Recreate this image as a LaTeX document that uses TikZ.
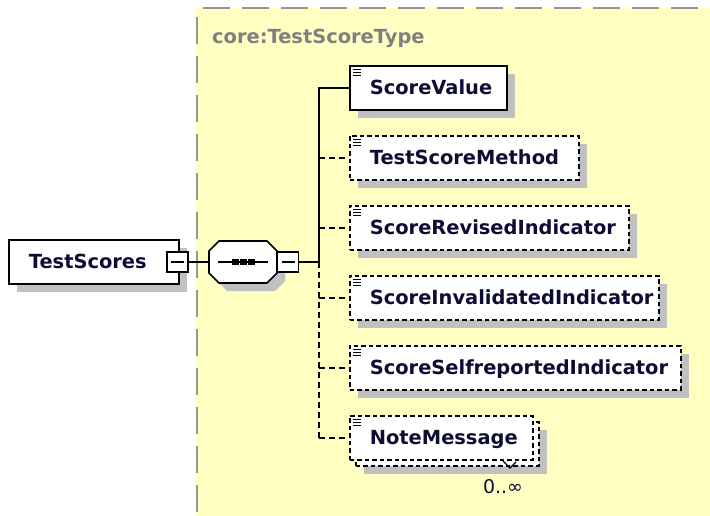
\documentclass[tikz,border=0pt]{standalone}
\usepackage{fontspec}
\setmainfont{DejaVu Sans}
\usetikzlibrary{shadows,calc}
\definecolor{bgyellow}{RGB}{255,255,194}
\definecolor{bordergrey}{RGB}{150,150,150}
\definecolor{shgrey}{RGB}{192,192,192}
\definecolor{lblgrey}{RGB}{128,128,128}
\definecolor{txtcol}{RGB}{12,12,52}
\tikzset{
  namefont/.style={font=\fontsize{19.5}{22}\selectfont\bfseries},
  boxshadow/.style={drop shadow={shadow xshift=8bp, shadow yshift=-8bp, fill=shgrey, opacity=1}},
  elembox/.style={draw=black, line width=1.7bp, fill=white, namefont, text=txtcol,
    anchor=north west, minimum height=44bp, inner xsep=20bp, inner ysep=0pt,
    text height=14.2pt, text depth=0pt, align=left, text width=#1},
  iconlines/.style={path picture={\foreach \d in {3.5,6.5,9.5}
     \draw[solid, black, line width=1.4bp] ([xshift=3.5bp,yshift=-\d bp]path picture bounding box.north west) -- ++(8bp,0);}},
  optbox/.style={dash pattern=on 4.5bp off 3bp},
  minusbox/.style={draw=black, fill=white, line width=1.5bp, minimum width=21bp, minimum height=20bp, inner sep=0pt,
    path picture={\draw[line width=1.5bp] ([xshift=4bp]path picture bounding box.west) -- ([xshift=-4bp]path picture bounding box.east);}},
  link/.style={draw=black, line width=1.8bp},
  optlink/.style={link, dash pattern=on 6bp off 4bp},
  seqoct/.pic={
    \fill[shgrey] (-16,-13) -- (32,-13) -- (42,-3) -- (42,19) -- (32,29) -- (-16,29) -- (-26,19) -- (-26,-3) -- cycle;
    \draw[black, line width=1.7bp, fill=white] (-24,-21) -- (24,-21) -- (34,-11) -- (34,11) -- (24,21) -- (-24,21) -- (-34,11) -- (-34,-11) -- cycle;
    \draw[black, line width=1.7bp] (-25,0) -- (25,0);
    \foreach \sx in {-7.5,0.5,8.5} \fill[black] (\sx-3.5,-3) rectangle (\sx+3.5,3);
  }
}
\begin{document}
\begin{tikzpicture}[x=1bp,y=-1bp]
\useasboundingbox (0,0) rectangle (710,516);
% complex type area
\fill[bgyellow] (196,8) rectangle (710,516);
\draw[bordergrey, line width=2bp, dash pattern=on 27bp off 12bp] (197,17) -- (197,516);
\draw[bordergrey, line width=2bp, dash pattern=on 27bp off 12bp] (203,8) -- (710,8);
\node[anchor=base west, namefont, text=lblgrey, inner sep=0pt] (lbl) at (212,44) {core:TestScoreType};

% root element
\node[elembox=130bp, boxshadow] (ts) at (8,239) {\mbox{TestScores}};
\node[minusbox] (tsmin) at (177.5,262) {};

% sequence compositor
\pic at (243,262) {seqoct};
\node[minimum width=68bp, minimum height=42bp, inner sep=0pt] (seq) at (243,262) {};
\node[minusbox] (seqmin) at (288,262) {};
\coordinate (trunk) at (319,262);

% child elements
\node[elembox=117bp, iconlines, boxshadow] (sv) at (349,65) {\mbox{ScoreValue}};
\node[elembox=189bp, optbox, iconlines, boxshadow] (tsm) at (349,135) {\mbox{TestScoreMethod}};
\node[elembox=239bp, optbox, iconlines, boxshadow] (sri) at (349,205) {\mbox{ScoreRevisedIndicator}};
\node[elembox=269bp, optbox, iconlines, boxshadow] (sii) at (349,275) {\mbox{ScoreInvalidatedIndicator}};
\node[elembox=291bp, optbox, iconlines, boxshadow] (ssi) at (349,345) {\mbox{ScoreSelfreportedIndicator}};
\node[elembox=143bp, optbox, boxshadow] (nmback) at (355,421) {};
\node[elembox=143bp, optbox, iconlines] (nm) at (349,415) {\mbox{NoteMessage}};
\draw[black, line width=1.2bp] (503,461) -- (510,468) -- (516,462);
\node[font=\fontsize{19}{22}\selectfont, text=txtcol, inner sep=0pt] (mult) at (503,487) {0..∞};

% connectors
\draw[link] (tsmin.east) -- (seq.west);
\draw[link] (seqmin.east) -- (trunk);
\draw[link] (trunk) |- (sv.west);
\draw[optlink] (trunk) -- (trunk |- nm.west);
\foreach \n in {tsm,sri,sii,ssi,nm} \draw[optlink] (trunk |- \n.west) -- (\n.west);
\end{tikzpicture}
\end{document}
